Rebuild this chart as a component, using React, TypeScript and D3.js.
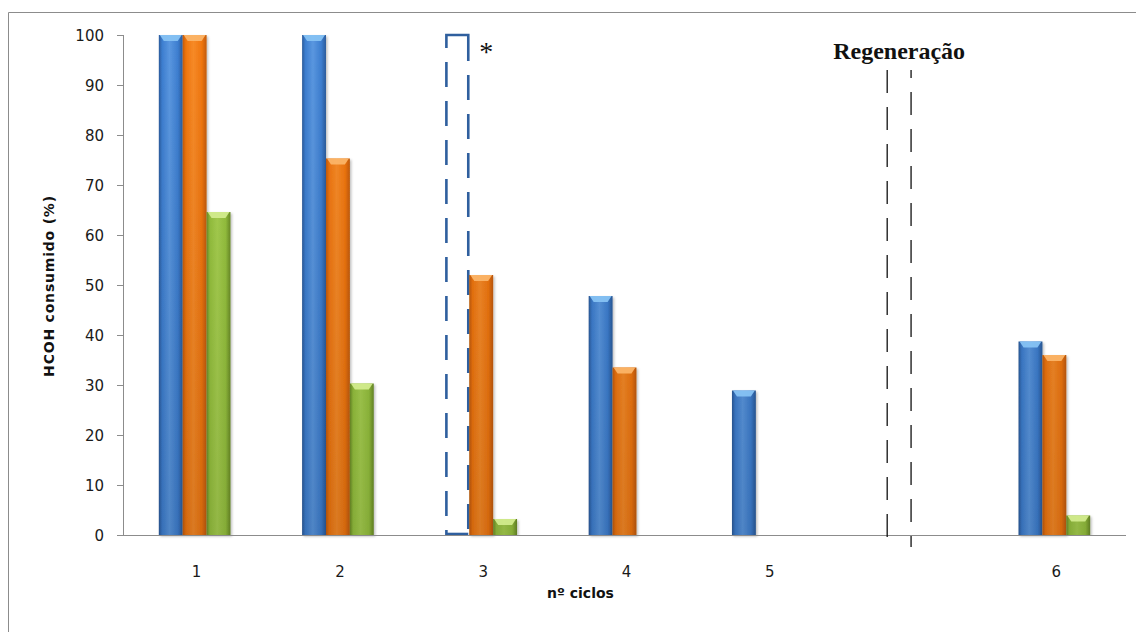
import React from "react";
import * as d3 from "d3";

// Formaldehyde consumption per adsorption cycle, three series per cycle.
const categories = ["1", "2", "3", "4", "5", "", "6"];
const seriesBlue = [100, 100, 100, 47.8, 28.9, null, 38.7];
const seriesOrange = [100, 75.3, 52.0, 33.5, null, null, 36.0];
const seriesGreen = [64.6, 30.3, 3.2, null, null, null, 3.9];
// cycle 3 of the blue series is shown only as a dashed outline (marked with *)
const outlinedBlue = [false, false, true, false, false, false, false];
const yTicks = [0, 10, 20, 30, 40, 50, 60, 70, 80, 90, 100];
const regenIndex = 5;
const regenLineSpan = [93, -2.4];
const regenLabelValue = 95.2;
const starValue = 94.9;

const W = 1136;
const H = 632;
const plot = { left: 123, right: 1126, top: 35, bottom: 535 };

const palette = [
  { id: "blue", edge: "#2b5b9b", main: "#3d7ed0", light: "#5a97e0", bevel: "#86c2f3" },
  { id: "orange", edge: "#c25a07", main: "#f0760f", light: "#f78a27", bevel: "#fbb468" },
  { id: "green", edge: "#6b8d27", main: "#96c23e", light: "#a7d04f", bevel: "#d2eb8d" },
];

export default function App() {
  const x0 = d3
    .scaleBand<number>()
    .domain(categories.map((_, i) => i))
    .range([plot.left, plot.right])
    .paddingInner(0.5)
    .paddingOuter(0.25);
  const x1 = d3
    .scaleBand<number>()
    .domain([0, 1, 2])
    .range([0, x0.bandwidth()]);
  const y = d3.scaleLinear().domain([0, 100]).range([plot.bottom, plot.top]);
  const bw = x1.bandwidth();

  const series = [seriesBlue, seriesOrange, seriesGreen];
  const center = (i: number) => (x0(i) as number) + x0.bandwidth() / 2;

  const bars: React.ReactNode[] = [];
  series.forEach((vals, s) => {
    vals.forEach((v, i) => {
      if (v == null) return;
      const bx = (x0(i) as number) + (x1(s) as number);
      const by = y(v);
      const bh = y(0) - by;
      if (s === 0 && outlinedBlue[i]) {
        const l = bx + 1;
        const r = bx + bw - 1;
        const stroke = { stroke: "#2f5f9e", strokeWidth: 2.6, fill: "none" };
        bars.push(
          <g key={`o-${s}-${i}`}>
            <path d={`M${l},${by + 13} V${by} H${r} V${by + 26}`} {...stroke} />
            <line x1={l} x2={l} y1={by + 27} y2={y(0)} {...stroke} strokeDasharray="25,14" />
            <line x1={r} x2={r} y1={by + 40} y2={y(0)} {...stroke} strokeDasharray="25,14" />
            <line x1={l} x2={r} y1={y(0) - 1} y2={y(0) - 1} {...stroke} />
          </g>
        );
        return;
      }
      const p = palette[s];
      const bev = Math.min(6, bh / 2);
      bars.push(
        <g key={`b-${s}-${i}`} filter="url(#shadow)">
          <rect x={bx} y={by} width={bw} height={bh} fill={`url(#grad-${p.id})`} />
          <rect x={bx} y={by} width={bw} height={bh} fill="url(#vshade)" />
          <polygon
            points={`${bx + 1},${by} ${bx + bw - 1},${by} ${bx + bw - 5},${by + bev} ${bx + 5},${by + bev}`}
            fill={p.bevel}
            opacity={0.95}
          />
        </g>
      );
    });
  });

  const regenCenter = center(regenIndex);
  const regenX = [regenCenter - bw, regenCenter];
  const outlineIdx = outlinedBlue.indexOf(true);
  const starX = (x0(outlineIdx) as number) + (x1(0) as number) + bw + 10;

  return (
    <svg
      width={W}
      height={H}
      style={{ position: "absolute", left: 0, top: 0, background: "#fff" }}
      fontFamily="'DejaVu Sans', sans-serif"
    >
      <defs>
        {palette.map((p) => (
          <linearGradient key={p.id} id={`grad-${p.id}`} x1="0" x2="1" y1="0" y2="0">
            <stop offset="0" stopColor={p.edge} />
            <stop offset="0.14" stopColor={p.main} />
            <stop offset="0.45" stopColor={p.light} />
            <stop offset="0.8" stopColor={p.main} />
            <stop offset="1" stopColor={p.edge} />
          </linearGradient>
        ))}
        <linearGradient id="vshade" gradientUnits="userSpaceOnUse" x1="0" x2="0" y1={plot.top} y2={plot.bottom}>
          <stop offset="0" stopColor="#000" stopOpacity="0" />
          <stop offset="1" stopColor="#000" stopOpacity="0.12" />
        </linearGradient>
        <filter id="shadow" x="-20%" y="-5%" width="140%" height="110%">
          <feDropShadow dx="1.5" dy="1.5" stdDeviation="1.2" floodColor="#000" floodOpacity="0.25" />
        </filter>
      </defs>

      {/* chart frame */}
      <path d={`M8.5,${H} V12.5 H${W}`} fill="none" stroke="#8c8c8c" strokeWidth={1} />

      {/* y axis */}
      <line x1={plot.left + 0.5} x2={plot.left + 0.5} y1={plot.top} y2={plot.bottom} stroke="#8c8c8c" />
      {yTicks.map((t) => (
        <g key={t} transform={`translate(0,${Math.round(y(t)) + 0.5})`}>
          <line x1={plot.left - 6} x2={plot.left} stroke="#8c8c8c" />
          <text x={104} dy="0.36em" textAnchor="end" fontSize={15} fill="#1a1a1a">
            {t}
          </text>
        </g>
      ))}

      {bars}

      {/* x axis */}
      <line x1={plot.left} x2={plot.right} y1={plot.bottom + 0.5} y2={plot.bottom + 0.5} stroke="#8c8c8c" />
      {categories.map((c, i) => (
        <text key={i} x={center(i) + 2} y={577} textAnchor="middle" fontSize={15} fill="#1a1a1a">
          {c}
        </text>
      ))}

      {/* regeneration marker */}
      {regenX.map((rx, k) => (
        <line
          key={k}
          x1={rx}
          x2={rx}
          y1={y(regenLineSpan[0])}
          y2={y(regenLineSpan[1])}
          stroke="#111"
          strokeWidth={1.3}
          strokeDasharray="23,14"
          strokeDashoffset={k === 0 ? 0 : 15}
        />
      ))}
      <text
        x={regenCenter - bw / 2}
        y={y(regenLabelValue)}
        textAnchor="middle"
        fontFamily="'Liberation Serif', 'Times New Roman', serif"
        fontWeight="bold"
        fontSize={24}
        fill="#111"
      >
        Regeneração
      </text>
      <text
        x={starX}
        y={y(starValue)}
        fontFamily="'Liberation Serif', 'Times New Roman', serif"
        fontSize={28}
        fill="#111"
      >
        *
      </text>

      {/* axis titles */}
      <text
        transform={`translate(54,286) rotate(-90)`}
        textAnchor="middle"
        fontSize={14}
        fontWeight="bold"
        letterSpacing={0.8}
        fill="#111"
      >
        HCOH consumido (%)
      </text>
      <text x={547} y={598} fontSize={14} fontWeight="bold" fill="#111">
        nº ciclos
      </text>
    </svg>
  );
}
